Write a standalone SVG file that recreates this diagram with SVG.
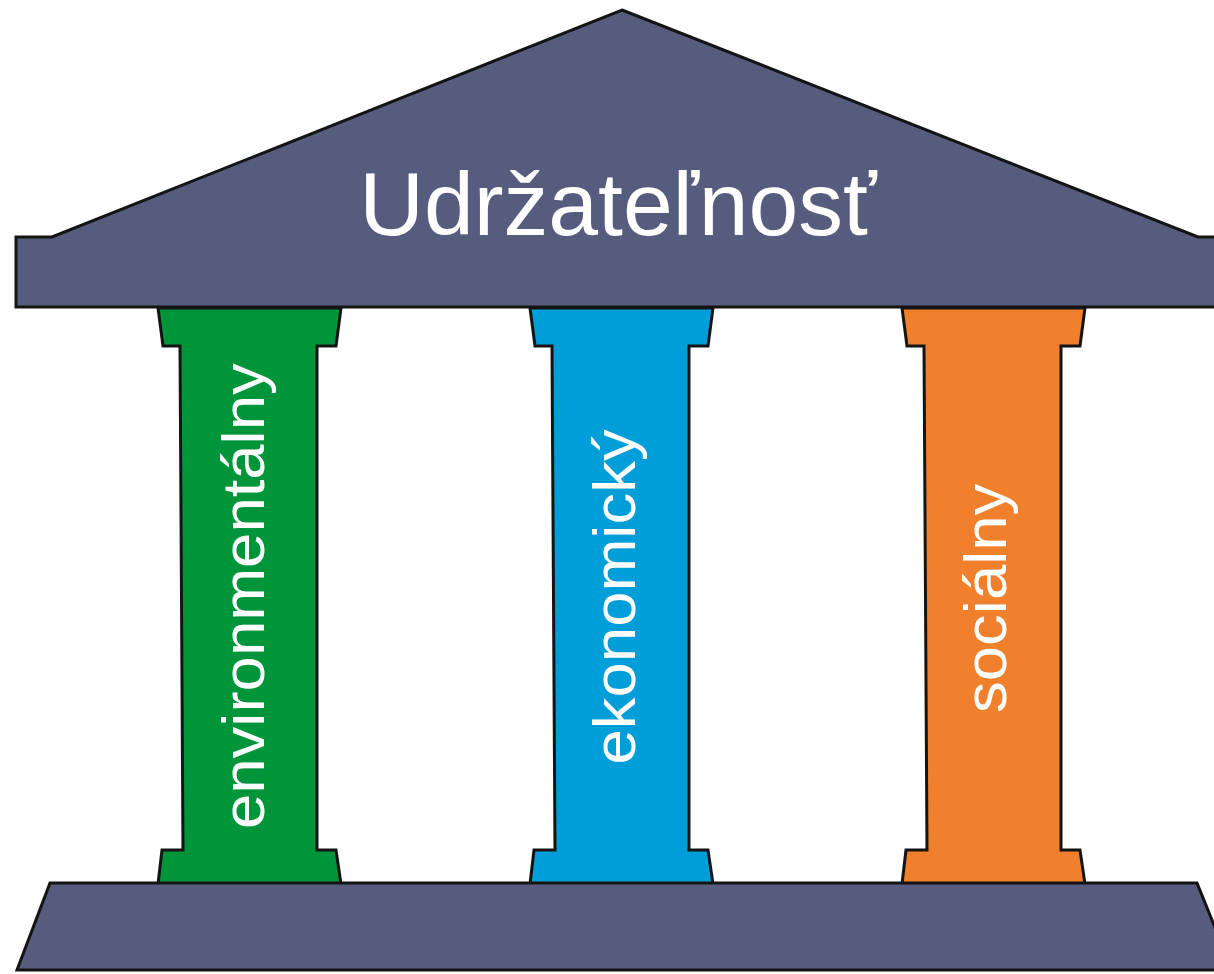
<svg xmlns="http://www.w3.org/2000/svg" width="1214" height="974" viewBox="0 0 1214 974">
<style>
.s{stroke:#141414;stroke-width:3;stroke-linejoin:miter}
.n{fill:#565c7d}
text{font-family:"Liberation Sans",Arial,sans-serif;fill:#fff}
.l{font-size:63.5px}
</style>
<rect width="1214" height="974" fill="#fff"/>
<g id="p1"><path class="s" fill="#00953b" d="M158 308H341L336 346H317V850H336L341 884H158L162 850H183L180 346H163Z"/>
<text class="l" transform="translate(264 829) rotate(-90) scale(1 .93)">environmentálny</text></g>
<g id="p2"><path class="s" fill="#009ed8" d="M530 308H713L708 346H689V850H708L713 884H530L534 850H555L552 346H535Z"/>
<text class="l" transform="translate(635 764.5) rotate(-90) scale(1 .93)">ekonomický</text></g>
<g id="p3"><path class="s" fill="#f0802c" d="M902 308H1085L1080 346H1061V850H1080L1085 884H902L906 850H927L924 346H907Z"/>
<text class="l" transform="translate(1006 713) rotate(-90) scale(1 .93)">sociálny</text></g>
<g id="roof"><path class="s n" d="M622 10L1198 237H1216V307H16V237H52Z"/>
<text x="618" y="235" font-size="89.5" text-anchor="middle">Udržateľnosť</text></g>
<g id="base"><path class="s n" d="M50 883H1197L1216 930V970H17Z"/></g>
<g id="connectors"></g>
</svg>
